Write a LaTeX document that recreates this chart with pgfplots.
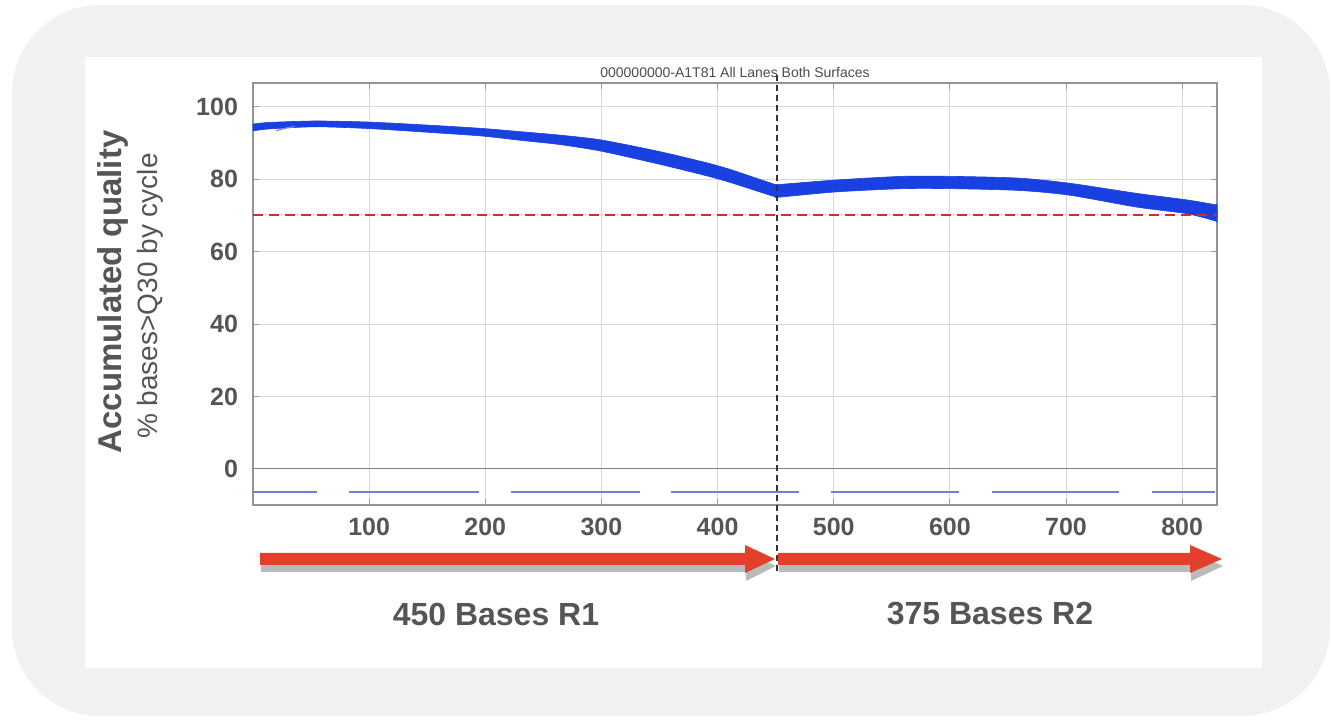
\documentclass[border=0pt]{standalone}
\usepackage{fontspec}
\setmainfont{Liberation Sans}
\usepackage{pgfplots}
\pgfplotsset{compat=1.18}
\definecolor{txtgrey}{HTML}{555555}
\definecolor{panel}{HTML}{F1F1F1}
\definecolor{bandblue}{RGB}{25,65,225}
\definecolor{arrowred}{RGB}{226,64,44}
\definecolor{refred}{RGB}{210,45,40}
\definecolor{dashblue}{RGB}{112,128,216}
\definecolor{gridgrey}{HTML}{D9D9D9}
\definecolor{curl}{RGB}{130,140,195}

\begin{document}
\begin{tikzpicture}
\useasboundingbox (0,0) rectangle (666pt,360.5pt);
\fill[white] (0,0) rectangle (666pt,360.5pt);
\fill[panel, rounded corners=44pt] (6pt,2.5pt) rectangle (665pt,358pt);
\fill[white] (42.5pt,26.5pt) rectangle (631pt,332pt);

\begin{axis}[
  at={(126.5pt,108pt)}, anchor=south west,
  scale only axis, width=482pt, height=211pt,
  xmin=0, xmax=830, ymin=-10, ymax=106.6,
  clip=false,
  axis background/.style={fill=white},
  xtick={100,200,...,800}, ytick={0,20,...,100},
  grid=major, grid style={gridgrey, line width=0.5pt},
  axis line style={draw=black!42, line width=0.9pt},
  tick style={black!40, line width=0.5pt}, major tick length=3pt,
  tick label style={font=\bfseries\fontsize{12.5}{14}\selectfont, text=txtgrey},
  /pgf/number format/assume math mode=true,
  yticklabel style={xshift=-4pt},
  xticklabel style={yshift=-3pt},
  unbounded coords=jump,
]
% zero line
\addplot[black!50, line width=0.7pt] coordinates {(0,0) (830,0)};
% low blue dashed series
\addplot[dashblue, line width=0.7pt] coordinates {
(0,-6.4) (55,-6.4) (nan,nan)
(83,-6.4) (195,-6.4) (nan,nan)
(222,-6.4) (333,-6.4) (nan,nan)
(360,-6.4) (470,-6.4) (nan,nan)
(498,-6.4) (608,-6.4) (nan,nan)
(636,-6.4) (746,-6.4) (nan,nan)
(774,-6.4) (828,-6.4)
};
% Q30 band, read 1 (upper edge, then lower edge back)
\addplot[smooth, tension=0.45, fill=bandblue, draw=bandblue, line width=0.3pt] coordinates {
(0,95.25) (14,95.7) (54,96.1) (100,95.8) (154,94.9) (197,94.05) (232,93.1)
(264,92.2) (300,90.85) (350,87.65) (390,84.6) (410,82.8) (430,80.65) (449,78.6) (451,78.4)
(451,75.0) (449,75.2) (430,77.15) (410,79.2) (390,81.0) (350,84.15) (300,87.75)
(264,89.6) (232,90.7) (197,91.95) (154,92.9) (100,94.0) (54,94.5) (14,93.9) (0,93.35)} -- cycle;
% Q30 band, read 2
\addplot[smooth, tension=0.45, fill=bandblue, draw=bandblue, line width=0.3pt] coordinates {
(451,78.5) (453,78.55) (502,79.8) (559,80.8) (602,80.8) (660,80.3) (703,78.9)
(761,76.1) (804,74.3) (828,73.0) (830,72.9)
(830,68.4) (828,68.55) (804,70.5) (761,72.3) (703,75.6) (660,76.9) (602,77.4)
(559,77.4) (502,76.5) (453,75.05) (451,75.0)} -- cycle;
\addplot[curl, line width=0.6pt] coordinates {(20,93.4) (28,94.1) (36,94.6)};
% threshold line
\addplot[refred, line width=1pt, dash pattern=on 5pt off 3pt] coordinates {(0,70) (830,70)};
% read boundary
\addplot[black!80, line width=0.7pt, dash pattern=on 3pt off 2pt] coordinates {(451,108.9) (451,-28.8)};
\end{axis}

\node[font=\fontsize{7}{8}\selectfont, text=black!70] at (367.5pt,324pt) {000000000-A1T81 All Lanes Both Surfaces};

\node[rotate=90, font=\bfseries\fontsize{16.5}{18}\selectfont, text=txtgrey] at (56.5pt,214.5pt) {Accumulated quality};
\node[rotate=90, font=\fontsize{14}{16}\selectfont, text=txtgrey] at (75pt,212.5pt) {\% bases>Q30 by cycle};

% arrow shadows
\fill[black!45, opacity=0.6] (130.5pt,80.5pt)--(373pt,80.5pt)--(373pt,84.5pt)--(388pt,77.5pt)--(373pt,70pt)--(373pt,74.5pt)--(130.5pt,74.5pt)--cycle;
\fill[black!45, opacity=0.6] (389.5pt,80.5pt)--(595.5pt,80.5pt)--(595.5pt,84.5pt)--(611.5pt,77.5pt)--(595.5pt,70pt)--(595.5pt,74.5pt)--(389.5pt,74.5pt)--cycle;
% arrows
\fill[arrowred] (130pt,84pt)--(372.5pt,84pt)--(372.5pt,88pt)--(387.5pt,81pt)--(372.5pt,74pt)--(372.5pt,78pt)--(130pt,78pt)--cycle;
\fill[arrowred] (389pt,84pt)--(595pt,84pt)--(595pt,88pt)--(611pt,81pt)--(595pt,74pt)--(595pt,78pt)--(389pt,78pt)--cycle;

\node[font=\bfseries\fontsize{16}{18}\selectfont, text=txtgrey] at (248pt,53.5pt) {450 Bases R1};
\node[font=\bfseries\fontsize{16}{18}\selectfont, text=txtgrey] at (495pt,53.5pt) {375 Bases R2};
\end{tikzpicture}
\end{document}
